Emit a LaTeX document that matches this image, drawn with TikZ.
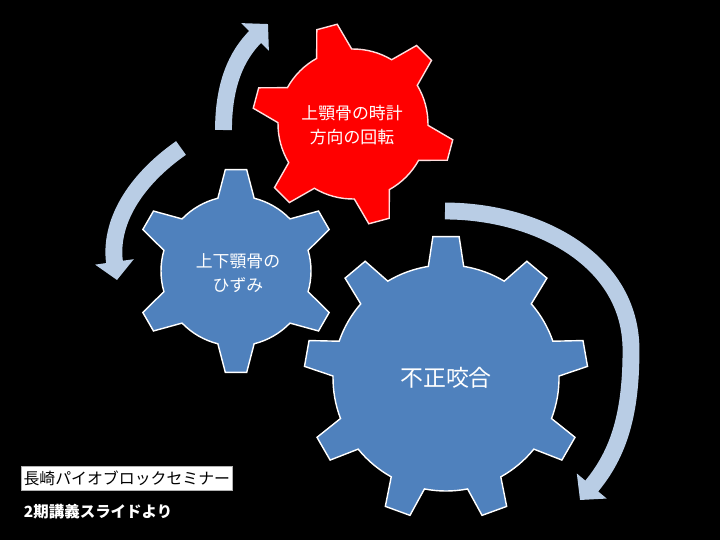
\documentclass[tikz,border=0pt]{standalone}
\usepackage{fontspec}
\setmainfont{Noto Sans CJK JP}
\usepackage{tikz}
\usetikzlibrary{arrows.meta}

\definecolor{gearblue}{RGB}{79,129,189}
\definecolor{arrowblue}{RGB}{185,205,229}
\definecolor{rimpink}{RGB}{255,222,222}

% #1 teeth, #2 first tooth angle, #3 body radius, #4 tip radius, #5 half base, #6 half tip
\newcommand{\gearpath}[6]{%
  ({#2-#5}:#3)
  \foreach \k [evaluate=\k as \a using {#2+(\k-1)*360/#1}] in {1,...,#1} {
    -- ({\a-#5}:#3) -- ({\a-#6}:#4) -- ({\a+#6}:#4) -- ({\a+#5}:#3)
    arc ({\a+#5}:{\a+360/#1-#5}:#3)
  } -- cycle}

\begin{document}
\begin{tikzpicture}[x=0.025cm, y=0.025cm,
    gear/.style={line width=1pt, line join=miter},
    turn/.style={arrowblue, line width=12pt, -{Triangle[width=27pt,length=13pt]}},
    geartext/.style={text=white, align=center, font=\fontsize{12pt}{17.5pt}\selectfont}]
	\fill[black] (0,0) rectangle (720,-540);
	\useasboundingbox (0,0) rectangle (720,-540);

	% gears
	\draw[gear, fill=gearblue, draw=white, shift={(236,-271)}] \gearpath{6}{90}{75}{102}{14}{6};
	\draw[gear, fill=red, draw=rimpink, shift={(353,-124)}] \gearpath{6}{45}{75}{101}{14}{6};
	\draw[gear, fill=gearblue, draw=white, shift={(446,-378)}] \gearpath{9}{90}{113}{142}{9}{5.3};

	\node[geartext] (rotation) at (352,-125) {上顎骨の時計\\方向の回転};
	\node[geartext] (distortion) at (238,-273) {上下顎骨の\\ひずみ};
	\node[geartext, font=\fontsize{16.3pt}{20pt}\selectfont] (malocclusion) at (446,-378) {不正咬合};

	% arrows
	\coordinate (a1s) at (181,-148);
	\coordinate (a1e) at (117,-280);
	\coordinate (a2s) at (223.5,-130);
	\coordinate (a2e) at (268,-24);
	\coordinate (a3s) at (445,-211);
	\coordinate (a3m) at (631,-350);
	\coordinate (a3e) at (580,-500);
	\draw[turn] (a1s) to[out=215, in=98] (a1e);
	\draw[turn] (a2s) to[out=90, in=225] (a2e);
	\draw[turn] (a3s) to[out=0, in=90] (a3m) to[out=-90, in=50] (a3e);

	% footer
	\node[fill=white, draw=gray!60, anchor=west, minimum width=5.275cm, minimum height=0.575cm,
	  inner xsep=1.5pt, text=black, font=\fontsize{11.3pt}{13pt}\selectfont] (seminar) at (21,-478.5) {長崎パイオブロックセミナー};
	\node[anchor=west, text=white, font=\bfseries\fontsize{11pt}{13pt}\selectfont] (source) at (19,-512) {2期講義スライドより};
\end{tikzpicture}
\end{document}
